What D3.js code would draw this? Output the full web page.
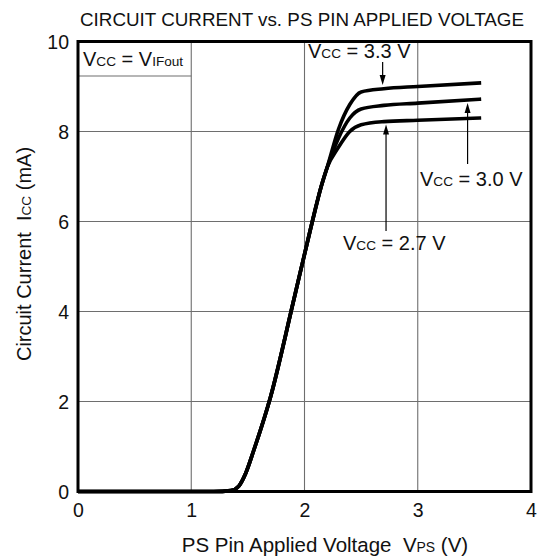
<!DOCTYPE html>
<html>
<head>
<meta charset="utf-8">
<script src="https://cdn.jsdelivr.net/npm/d3@7"></script>
<style>
  html, body { margin: 0; padding: 0; background: #fff; }
  svg { display: block; }
  text { font-family: "Liberation Sans", Arial, Helvetica, sans-serif; fill: #111; white-space: pre; }
</style>
</head>
<body>
<svg id="chart" width="541" height="558"></svg>
<script>
// Circuit current vs. PS pin applied voltage, one curve per supply voltage
const xTicks = [0, 1, 2, 3, 4];
const yTicks = [0, 2, 4, 6, 8, 10];

// shared turn-on region (V_PS, I_CC in mA)
const riseV = [0, 1.2, 1.35, 1.42, 1.48, 1.55, 1.7, 1.9, 2.05, 2.15, 2.2];
const riseI = [0, 0, 0.02, 0.12, 0.4, 0.9, 2.1, 4.2, 5.8, 6.8, 7.2];

// saturation region for each supply
const satV = [2.3, 2.4, 2.5, 2.7, 3.0, 3.56];
const sat33 = [8.05, 8.6, 8.88, 8.95, 9.0, 9.08];
const sat30 = [7.85, 8.3, 8.5, 8.58, 8.63, 8.72];
const sat27 = [7.65, 8.0, 8.15, 8.22, 8.25, 8.3];

const series = [
  { name: "3.3", sat: sat33 },
  { name: "3.0", sat: sat30 },
  { name: "2.7", sat: sat27 }
];

const svg = d3.select("#chart");
const plot = { left: 78, right: 531, top: 41.5, bottom: 491.5 };

const x = d3.scaleLinear().domain([0, 4]).range([plot.left, plot.right]);
const y = d3.scaleLinear().domain([0, 10]).range([plot.bottom, plot.top]);

// grid
const grid = svg.append("g").attr("stroke", "#6e6e6e").attr("stroke-width", 1.1);
xTicks.slice(1, -1).forEach(t => {
  grid.append("line").attr("x1", x(t)).attr("x2", x(t)).attr("y1", y(0)).attr("y2", y(10));
});
yTicks.slice(1, -1).forEach(t => {
  grid.append("line").attr("x1", x(0)).attr("x2", x(4)).attr("y1", y(t)).attr("y2", y(t));
});

// label box, upper-left cell
grid.append("line").attr("x1", x(0)).attr("x2", x(1)).attr("y1", 76).attr("y2", 76);

// axis tick labels
const xAxis = d3.axisBottom(x).tickValues(xTicks).tickSize(0).tickFormat(d3.format("d"));
const gx = svg.append("g").attr("transform", `translate(0,${plot.bottom})`).call(xAxis);
gx.select(".domain").remove();
gx.selectAll("text").attr("font-size", 19.5).attr("dy", null).attr("y", 25)
  .style("font-family", "Liberation Sans, Arial, sans-serif").attr("fill", "#111");

const yAxis = d3.axisLeft(y).tickValues(yTicks).tickSize(0).tickFormat(d3.format("d"));
const gy = svg.append("g").attr("transform", `translate(${plot.left},0)`).call(yAxis);
gy.select(".domain").remove();
gy.selectAll("text").attr("font-size", 19.5).attr("x", -9).attr("dy", "0.35em")
  .style("font-family", "Liberation Sans, Arial, sans-serif").attr("fill", "#111");

// curves
const line = d3.line().x(d => x(d[0])).y(d => y(d[1])).curve(d3.curveMonotoneX);
series.forEach(s => {
  const pts = riseV.map((v, i) => [v, riseI[i]]).concat(satV.map((v, i) => [v, s.sat[i]]));
  svg.append("path").datum(pts).attr("d", line)
    .attr("fill", "none").attr("stroke", "#000").attr("stroke-width", 3.6)
    .attr("stroke-linejoin", "round").attr("stroke-linecap", "butt");
});

// frame
svg.append("rect").attr("x", plot.left).attr("y", plot.top)
  .attr("width", plot.right - plot.left).attr("height", plot.bottom - plot.top)
  .attr("fill", "none").attr("stroke", "#000").attr("stroke-width", 3);

// text helper: main text with small same-baseline parts
function rich(parent, xPos, yPos, parts, size, anchor) {
  const t = parent.append("text").attr("x", xPos).attr("y", yPos)
    .attr("font-size", size).attr("text-anchor", anchor || "start");
  parts.forEach(p => {
    t.append("tspan").attr("font-size", p[1] ? size * 0.68 : size).text(p[0]);
  });
  return t;
}

rich(svg, 83, 66, [["V"], ["CC", 1], [" = V"], ["IFout", 1]], 20);

// arrows pointing at each curve
function arrow(xv, yFrom, yTip, up) {
  const px = x(xv);
  svg.append("line").attr("x1", px).attr("x2", px).attr("y1", yFrom).attr("y2", yTip + (up ? 9 : -9))
    .attr("stroke", "#000").attr("stroke-width", 1.2);
  const s = up ? 1 : -1;
  svg.append("path")
    .attr("d", `M${px},${yTip} L${px - 3},${yTip + s * 10} L${px + 3},${yTip + s * 10} Z`)
    .attr("fill", "#000");
}

const annots = [
  { sat: sat33, xv: 2.69, label: "3.3 V", tx: 308, ty: 58, from: 62, up: false },
  { sat: sat30, xv: 3.44, label: "3.0 V", tx: 420, ty: 186, from: 164, up: true },
  { sat: sat27, xv: 2.72, label: "2.7 V", tx: 343, ty: 250, from: 231, up: true }
];
annots.forEach(a => {
  const yc = y(d3.scaleLinear().domain(satV).range(a.sat)(a.xv));
  const tip = a.up ? yc + 3 : yc - 4;
  arrow(a.xv, a.from, tip, a.up);
  rich(svg, a.tx, a.ty, [["V"], ["CC", 1], [" = " + a.label]], 20);
});

// titles
svg.append("text").attr("x", 80).attr("y", 26).attr("font-size", 19)
  .attr("textLength", 444).attr("lengthAdjust", "spacingAndGlyphs")
  .text("CIRCUIT CURRENT vs. PS PIN APPLIED VOLTAGE");

rich(svg, 325, 552, [["PS Pin Applied Voltage  V"], ["PS", 1], [" (V)"]], 20.5, "middle");

const yt = rich(svg, 0, 0, [["Circuit Current  I"], ["CC", 1], [" (mA)"]], 20, "middle");
yt.attr("transform", "translate(31,254) rotate(-90)");
</script>
</body>
</html>
